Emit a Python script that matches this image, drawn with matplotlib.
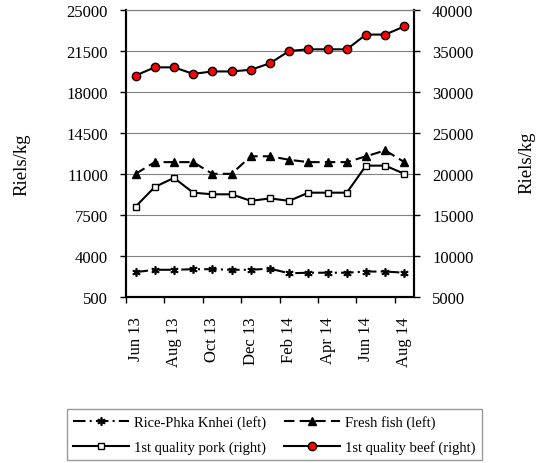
import numpy as np
import matplotlib
matplotlib.use('Agg')
import matplotlib.pyplot as plt

# Dados (Riels/kg)
meses = ['Jun 13', 'Jul 13', 'Aug 13', 'Sep 13', 'Oct 13', 'Nov 13', 'Dec 13', 'Jan 14',
         'Feb 14', 'Mar 14', 'Apr 14', 'May 14', 'Jun 14', 'Jul 14', 'Aug 14']
arroz = [2600, 2800, 2800, 2850, 2850, 2800, 2800, 2900, 2500, 2550, 2550, 2550, 2650, 2650, 2550]
peixe = [11000, 12000, 12000, 12000, 11000, 11000, 12500, 12500, 12200, 12000, 12000, 12000, 12500, 13000, 12000]
porco = [16000, 18400, 19500, 17700, 17500, 17500, 16700, 17000, 16700, 17700, 17700, 17700, 21000, 21000, 20000]
boi = [32000, 33000, 33000, 32200, 32500, 32500, 32700, 33500, 35000, 35200, 35200, 35200, 37000, 37000, 38000]

plt.rcParams['font.family'] = ['Liberation Serif', 'DejaVu Serif']

fig = plt.figure(figsize=(5.37, 4.64), dpi=100)
ax = fig.add_axes([126 / 537, 1 - 297.7 / 464, 288 / 537, 286.7 / 464])
ax2 = ax.twinx()

x = np.arange(len(meses))

# Eixo da esquerda
l_arroz, = ax.plot(x, arroz, color='black', linewidth=1.5, linestyle=(0, (6, 2, 1, 2)),
                   marker=(6, 2, 0), markersize=6, markeredgewidth=1.2,
                   label='Rice-Phka Knhei (left)')
l_peixe, = ax.plot(x, peixe, color='black', linewidth=1.5, linestyle=(0, (5, 2.5)),
                   marker='^', markersize=6, markerfacecolor='black',
                   label='Fresh fish (left)')

# Eixo da direita
l_porco, = ax2.plot(x, porco, color='black', linewidth=1.5, marker='s', markersize=5,
                    markerfacecolor='white', markeredgecolor='black', markeredgewidth=1,
                    label='1st quality pork (right)')
l_boi, = ax2.plot(x, boi, color='black', linewidth=1.5, marker='o', markersize=6,
                  markerfacecolor='red', markeredgecolor='black', markeredgewidth=1,
                  label='1st quality beef (right)')

ax.set_xlim(-0.5, 14.5)
ax.set_ylim(500, 25000)
ax.set_yticks(np.arange(500, 25001, 3500))
ax2.set_ylim(5000, 40000)
ax2.set_yticks(np.arange(5000, 40001, 5000))

ax.yaxis.grid(True, color='#808080', linewidth=0.8)
ax.set_axisbelow(True)

# Rótulos no centro das categorias, marcas nas divisas
ax.set_xticks(x[::2])
ax.set_xticklabels(meses[::2], rotation=90)
ax.set_xticks(np.arange(-0.5, 14.5, 2), minor=True)
ax.tick_params(axis='x', which='major', length=0, pad=14, labelsize=12)
ax.tick_params(axis='x', which='minor', length=4, width=1, direction='out')
ax.tick_params(axis='y', length=4, width=1, pad=9, labelsize=12)
ax2.tick_params(axis='y', length=4, width=1, pad=9, labelsize=12)

for a in (ax, ax2):
    a.spines['top'].set_color('#808080')
    a.spines['top'].set_linewidth(0.8)
    for s in ('left', 'right', 'bottom'):
        a.spines[s].set_linewidth(1.5)
        a.spines[s].set_color('black')

fig.text(22 / 537, 1 - 165 / 464, 'Riels/kg', rotation=90, ha='center', va='center', fontsize=13.5)
fig.text(527 / 537, 1 - 163 / 464, 'Riels/kg', rotation=90, ha='center', va='center', fontsize=13.5)

leg = fig.legend(handles=[l_arroz, l_porco, l_peixe, l_boi], ncol=2,
                 loc='upper center', bbox_to_anchor=((65 + 484) / 2 / 537, 1 - 410 / 464),
                 borderaxespad=0,
                 fontsize=10.5, frameon=True, fancybox=False, edgecolor='#808080',
                 handlelength=3.85, handletextpad=0.35, columnspacing=1.2,
                 labelspacing=0.8, borderpad=0.4)
leg.get_frame().set_linewidth(1)

fig.savefig('out.png', dpi=100)
plt.close(fig)
